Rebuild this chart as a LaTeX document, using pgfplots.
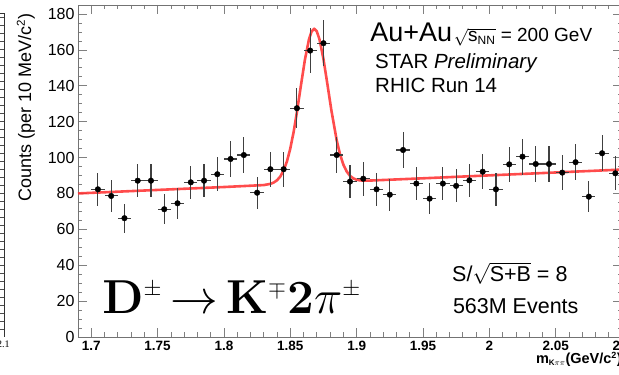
\documentclass[border=0pt]{standalone}
\usepackage{pgfplots}
\pgfplotsset{compat=1.18}
\usepackage{pgfplotstable}
\usepackage[no-math]{fontspec}
\setmainfont{Liberation Sans}
\newfontfamily\timesfont{Liberation Serif}
\definecolor{fitred}{RGB}{255,45,45}

\pgfplotstableread{
x y ex ey
1.705 82.3 0.005 9.1
1.715 78.6 0.005 8.9
1.725 66.2 0.005 8.1
1.735 87.1 0.005 9.3
1.745 87.1 0.005 9.3
1.755 71.2 0.005 8.4
1.765 74.5 0.005 8.6
1.775 86.2 0.005 9.3
1.785 87.1 0.005 9.3
1.795 90.7 0.005 9.5
1.805 99.2 0.005 10.0
1.815 101.4 0.005 10.1
1.825 80.4 0.005 9.0
1.835 93.5 0.005 9.7
1.845 93.5 0.005 9.7
1.855 127.5 0.005 11.3
1.865 159.6 0.005 12.6
1.875 163.7 0.005 12.8
1.885 101.4 0.005 10.1
1.895 86.6 0.005 9.3
1.905 88.2 0.005 9.4
1.915 82.3 0.005 9.1
1.925 79.3 0.005 8.9
1.935 104.2 0.005 10.2
1.945 85.5 0.005 9.2
1.955 77.1 0.005 8.8
1.965 85.5 0.005 9.2
1.975 84.2 0.005 9.2
1.985 87.3 0.005 9.3
1.995 92.1 0.005 9.6
2.005 82.3 0.005 9.1
2.015 96.2 0.005 9.8
2.025 100.5 0.005 10.0
2.035 96.4 0.005 9.8
2.045 96.4 0.005 9.8
2.055 91.6 0.005 9.6
2.065 97.4 0.005 9.9
2.075 78.2 0.005 8.8
2.085 102.4 0.005 10.1
2.095 91.2 0.005 9.5
}\datatable

\pgfplotstableread{
x y
1.69 80.00
1.75 81.95
1.80 83.57
1.83 84.66
1.835 85.32
1.8375 86.06
1.84 87.33
1.8425 89.46
1.845 92.84
1.8475 97.90
1.85 104.99
1.8525 114.18
1.855 125.32
1.858 140.09
1.861 154.41
1.864 165.62
1.866 170.16
1.868 171.77
1.870 170.29
1.872 165.88
1.875 154.86
1.878 140.74
1.881 126.16
1.885 109.51
1.8875 101.74
1.89 96.07
1.8925 92.22
1.895 89.81
1.8975 88.39
1.90 87.64
1.9025 87.28
1.905 87.14
1.91 87.17
1.95 88.43
2.0 90.06
2.05 91.68
2.1 93.30
}\fittable

\begin{document}
\begin{tikzpicture}[x=1pt,y=1pt]
\begin{axis}[
  at={(78pt,38pt)}, anchor=south west,
  scale only axis, width=544pt, height=332pt,
  xmin=1.69, xmax=2.1, ymin=0, ymax=185,
  xtick={1.7,1.75,1.8,1.85,1.9,1.95,2,2.05,2.1},
  xticklabels={1.7,1.75,1.8,1.85,1.9,1.95,2,2.05,2.1},
  ytick={0,20,...,180},
  minor x tick num=4, minor y tick num=3,
  tick align=inside,
  major tick length=9pt, minor tick length=4.5pt,
  axis line style={black!55, line width=0.8pt},
  every tick/.style={black!50, line width=0.7pt},
  /pgf/number format/assume math mode=true,
  yticklabel style={font=\fontsize{16}{18}\selectfont},
  xticklabel style={font=\bfseries\fontsize{13.5}{15}\selectfont, yshift=-1pt},
  clip=false,
]
\addplot[fitred, line width=2.6pt, opacity=0.85, line join=round] table[x=x,y=y] {\fittable};
\addplot[only marks, mark=*, mark size=2.8pt, black,
  error bars/.cd, x dir=both, x explicit, y dir=both, y explicit,
  error mark=none, error bar style={black!75, line width=1.1pt}]
  table[x=x, y=y, x error=ex, y error=ey] {\datatable};

\node[rotate=90, anchor=south east, inner sep=0pt, font=\fontsize{18}{20}\selectfont]
  at (axis description cs:-0.079,0.976) {Counts (per 10 MeV/c$^{\mbox{\fontsize{11.5}{12}\selectfont 2}}$)};
\node[anchor=north east, inner sep=0pt, font=\bfseries\fontsize{14.5}{16}\selectfont]
  at (axis description cs:1.0,-0.045) {m$_{\mbox{\fontsize{8}{9}\selectfont K$\pi\pi$}}$(GeV/c$^{\mbox{\fontsize{9}{10}\selectfont 2}}$)};

\node[anchor=base west, inner sep=0pt] at (axis description cs:0.537,0.889)
  {{\fontsize{27}{29}\selectfont Au+Au}\,{\fontsize{19}{21}\selectfont$\sqrt{\mbox{s}_{\mbox{\fontsize{12}{13}\selectfont NN}}}$ = 200 GeV}};
\node[anchor=base west, inner sep=0pt, font=\fontsize{20.5}{23}\selectfont] at (axis description cs:0.546,0.810)
  {STAR \textit{Preliminary}};
\node[anchor=base west, inner sep=0pt, font=\fontsize{20.5}{23}\selectfont] at (axis description cs:0.546,0.735)
  {RHIC Run 14};
\node[anchor=base west, inner sep=0pt, font=\fontsize{21.5}{24}\selectfont] at (axis description cs:0.6875,0.166)
  {S/$\sqrt{\mbox{S+B}}$ = 8};
\node[anchor=base west, inner sep=0pt, font=\fontsize{21.5}{24}\selectfont] at (axis description cs:0.689,0.072)
  {563M Events};
\node[anchor=base west, inner sep=0pt, font=\fontsize{20}{22}\selectfont, scale=2.3] at (axis description cs:0.044,0.072)
  {$\mathbf{D}^{\scriptscriptstyle\pm}\,{\rightarrow}\,\mathbf{K}^{\scriptscriptstyle\mp}\mathbf{2}\pi^{\scriptscriptstyle\pm}$};
\end{axis}

% fragment of the neighbouring panel at the left edge
\draw[black!80, line width=0.7pt] (0,362) -- (4,362) -- (4,38);
\foreach \yy in {46,54,...,358} \draw[black!70, line width=0.5pt] (0,\yy) -- (4,\yy);
\node[anchor=north west, inner sep=0pt, font=\timesfont\fontsize{10}{11}\selectfont] at (-3,34) {2.1};

\pgfresetboundingbox
\useasboundingbox (0,0) rectangle (619,375);
\end{tikzpicture}
\end{document}
